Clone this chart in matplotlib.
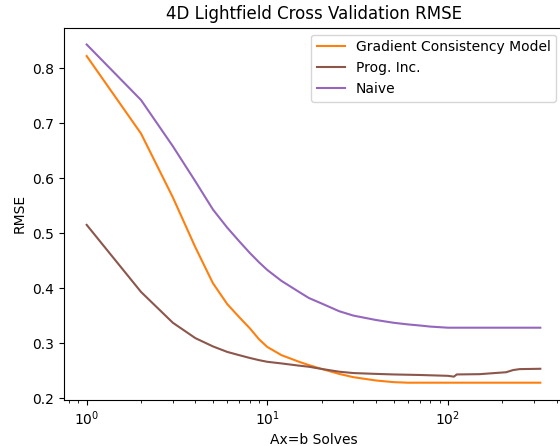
import numpy as np
import matplotlib
matplotlib.use("Agg")
import matplotlib.pyplot as plt

# Ax=b solves (x axis, log scale)
solves_gc = [1, 2, 3, 4, 5, 6, 7, 8, 9, 10, 12, 15, 17, 20, 25, 30, 40, 50, 60, 80, 100, 150, 200, 325]
rmse_gc = [0.822, 0.681, 0.565, 0.474, 0.409, 0.371, 0.347, 0.327, 0.307, 0.293, 0.278, 0.266,
           0.260, 0.253, 0.244, 0.238, 0.232, 0.229, 0.228, 0.228, 0.228, 0.228, 0.228, 0.228]

solves_prog = [1, 2, 3, 4, 5, 6, 7, 8, 9, 10, 12, 15, 17, 20, 25, 30, 40, 50, 70, 100, 108, 112,
               150, 190, 210, 230, 250, 325]
rmse_prog = [0.515, 0.393, 0.337, 0.309, 0.294, 0.284, 0.278, 0.273, 0.269, 0.266, 0.263, 0.259,
             0.257, 0.253, 0.248, 0.2455, 0.244, 0.243, 0.242, 0.2405, 0.239, 0.243,
             0.2435, 0.246, 0.247, 0.251, 0.2527, 0.2533]

solves_naive = [1, 2, 3, 4, 5, 6, 7, 8, 9, 10, 12, 15, 17, 20, 25, 30, 40, 50, 60, 70, 80, 100, 150, 325]
rmse_naive = [0.843, 0.742, 0.658, 0.594, 0.543, 0.510, 0.485, 0.464, 0.447, 0.433, 0.413, 0.393,
              0.382, 0.372, 0.358, 0.350, 0.342, 0.337, 0.334, 0.332, 0.330, 0.328, 0.328, 0.328]

fig = plt.figure(figsize=(5.6, 4.46), dpi=100)
ax = fig.add_axes([64 / 560, 46.4 / 446, 499 / 560, 372 / 446])

ax.plot(solves_gc, rmse_gc, color="C1", label="Gradient Consistency Model")
ax.plot(solves_prog, rmse_prog, color="C5", label="Prog. Inc.")
ax.plot(solves_naive, rmse_naive, color="C4", label="Naive")

ax.set_xscale("log")
ax.set_title("4D Lightfield Cross Validation RMSE")
ax.set_xlabel("Ax=b Solves")
ax.set_ylabel("RMSE")
ax.legend(loc="upper right")

fig.savefig("out.png", dpi=100)
